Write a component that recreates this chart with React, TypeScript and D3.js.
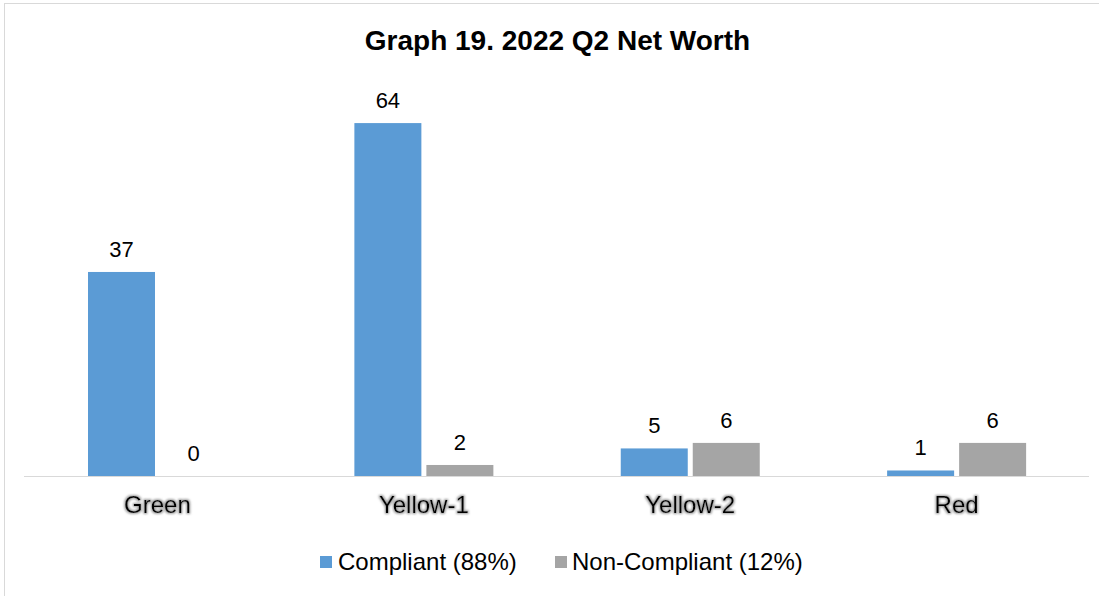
import React from "react";
import * as d3 from "d3";

const categories = ["Green", "Yellow-1", "Yellow-2", "Red"];
const seriesNames = ["Compliant (88%)", "Non-Compliant (12%)"];
const compliant = [37, 64, 5, 1];
const nonCompliant = [0, 2, 6, 6];
const seriesColors = ["#5B9BD5", "#A5A5A5"];
const title = "Graph 19. 2022 Q2 Net Worth";

const W = 1099;
const H = 596;
const FONT = "'Liberation Sans', Arial, sans-serif";

export default function App() {
  const values = [compliant, nonCompliant];
  const x0 = d3.scaleBand<string>().domain(categories).range([24.25, 1089.75]).padding(0);
  const x1 = d3
    .scaleBand<string>()
    .domain(seriesNames)
    .range([63.75, 202.75])
    .paddingInner(5 / 72)
    .paddingOuter(0);
  const y = d3.scaleLinear().domain([0, 70]).range([476, 90]);

  const legendItems = [
    { mx: 320, tx: 338 },
    { mx: 555, tx: 572 },
  ];

  return (
    <svg
      width={W}
      height={H}
      style={{ position: "absolute", left: 0, top: 0, background: "#fff" }}
      fontFamily={FONT}
    >
      <defs>
        <filter id="glow" x="-20%" y="-40%" width="140%" height="180%">
          <feMorphology in="SourceAlpha" operator="dilate" radius="1.2" result="d" />
          <feGaussianBlur in="d" stdDeviation="1.3" result="b" />
          <feFlood floodColor="#7f7f7f" floodOpacity="0.75" result="f" />
          <feComposite in="f" in2="b" operator="in" result="g" />
          <feMerge>
            <feMergeNode in="g" />
            <feMergeNode in="SourceGraphic" />
          </feMerge>
        </filter>
      </defs>
      <rect x={4.5} y={3.5} width={W + 10} height={H + 10} fill="#fff" stroke="#d9d9d9" strokeWidth={1} />
      <text x={557.5} y={50} textAnchor="middle" fontSize={28} fontWeight="bold" fill="#000">
        {title}
      </text>
      {categories.map((c, ci) => (
        <g key={c} transform={`translate(${x0(c)},0)`}>
          {seriesNames.map((s, si) => {
            const v = values[si][ci];
            const bx = x1(s)!;
            const by = y(v);
            return (
              <g key={s}>
                {v > 0 && (
                  <rect x={bx} y={by} width={x1.bandwidth()} height={y(0) - by} fill={seriesColors[si]} />
                )}
                <text
                  x={bx + x1.bandwidth() / 2}
                  y={by - 15}
                  textAnchor="middle"
                  fontSize={22}
                  fill="#000"
                >
                  {v}
                </text>
              </g>
            );
          })}
        </g>
      ))}
      <line x1={24} x2={1089} y1={476.5} y2={476.5} stroke="#d9d9d9" strokeWidth={1.2} />
      {categories.map((c) => (
        <text
          key={c}
          x={x0(c)! + x0.bandwidth() / 2}
          y={513}
          textAnchor="middle"
          fontSize={24}
          fill="#000"
          filter="url(#glow)"
        >
          {c}
        </text>
      ))}
      {seriesNames.map((s, i) => (
        <g key={s}>
          <rect x={legendItems[i].mx} y={556} width={12} height={12} fill={seriesColors[i]} />
          <text x={legendItems[i].tx} y={570} fontSize={24} fill="#000">
            {s}
          </text>
        </g>
      ))}
    </svg>
  );
}
